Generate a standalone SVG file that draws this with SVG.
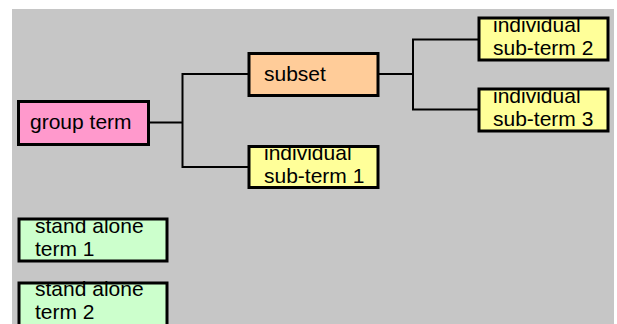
<svg xmlns="http://www.w3.org/2000/svg" width="617" height="324" viewBox="0 0 617 324">
<style>
.box{stroke:#000;stroke-width:3}
.t{font-family:"Liberation Sans",Arial,sans-serif;font-size:21px;fill:#000}
.c{fill:none;stroke:#000;stroke-width:2}
</style>
<rect x="0" y="0" width="617" height="324" fill="#fff"/>
<rect x="12" y="9" width="602" height="315" fill="#c6c6c6"/>
<g id="connectors">
<path class="c" d="M150,122.5H182.5M182.5,74H248M182.5,167H248M182.5,73V168"/>
<path class="c" d="M379,74H413M413,39.5H478M413,109.5H478M413,38.5V110.5"/>
</g>
<g id="group-term"><rect class="box" x="18.5" y="101.5" width="130" height="43" fill="#ff99cc"/><text class="t" x="30" y="129">group term</text></g>
<g id="subset"><rect class="box" x="249" y="53.5" width="129" height="42" fill="#ffcc99"/><text class="t" x="264" y="81">subset</text></g>
<g id="sub-term-1"><rect class="box" x="249" y="146.5" width="129" height="41" fill="#ffff99"/><text class="t" x="264" y="160">individual</text><text class="t" x="264" y="183">sub-term 1</text></g>
<g id="sub-term-2"><rect class="box" x="479" y="18" width="129" height="42" fill="#ffff99"/><text class="t" x="493" y="32">individual</text><text class="t" x="493" y="55">sub-term 2</text></g>
<g id="sub-term-3"><rect class="box" x="479" y="89" width="129" height="42" fill="#ffff99"/><text class="t" x="493" y="103">individual</text><text class="t" x="493" y="126">sub-term 3</text></g>
<g id="stand-alone-1"><rect class="box" x="19" y="219" width="148" height="42" fill="#ccffcc"/><text class="t" x="35" y="233">stand alone</text><text class="t" x="35" y="256">term 1</text></g>
<g id="stand-alone-2"><rect class="box" x="19" y="283" width="148" height="44" fill="#ccffcc"/><text class="t" x="35" y="296">stand alone</text><text class="t" x="35" y="319">term 2</text></g>
</svg>
